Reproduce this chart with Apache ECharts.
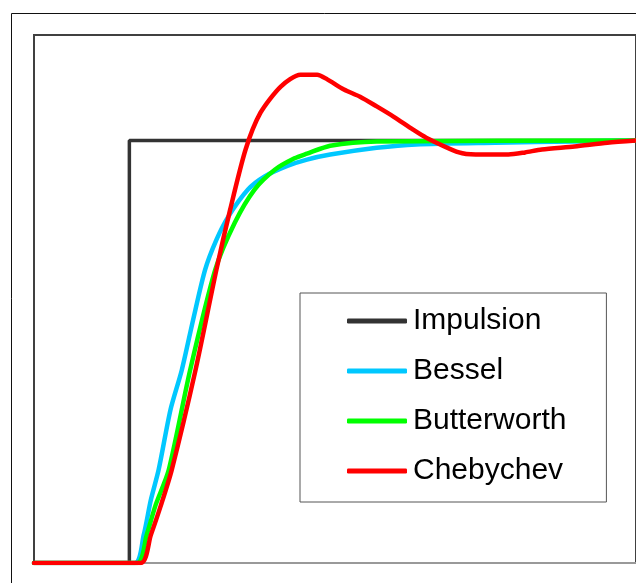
<!DOCTYPE html>
<html>
<head>
<meta charset="utf-8">
<script src="https://cdn.jsdelivr.net/npm/echarts@6/dist/echarts.min.js"></script>
<style>
  html, body { margin: 0; padding: 0; background: #fff; }
  #chart { width: 636px; height: 583px; }
</style>
</head>
<body>
<div id="chart"></div>
<script>
// noms des courbes (légende)
const seriesNames = ['Impulsion', 'Bessel', 'Butterworth', 'Chebychev']

// réponses indicielles : [temps, amplitude]
const impulsion = [[0, 0], [16.0, 0], [16.0, 1], [101, 1]]
const bessel = [
    [0, 0], [16.9, 0], [18.4, 0.066], [19.6, 0.149], [20.9, 0.22], [22.9, 0.363],
    [24.8, 0.457], [26.7, 0.576], [28.7, 0.694], [30.6, 0.765], [32.6, 0.82],
    [35.9, 0.884], [38.7, 0.915], [42.5, 0.94], [45.8, 0.955], [49.7, 0.967],
    [57.5, 0.983], [64.1, 0.991], [77.4, 0.995], [90.7, 0.998], [101, 1]
]
const butterworth = [
    [0, 0], [17.3, 0], [18.9, 0.066], [20.4, 0.137], [22.6, 0.22], [26.2, 0.457],
    [30.4, 0.694], [33.7, 0.806], [37.0, 0.884], [40.4, 0.931], [43.7, 0.958],
    [45.8, 0.969], [49.7, 0.988], [57.5, 0.998], [101, 1]
]
const chebychev = [
    [0, 0], [17.9, 0], [19.6, 0.066], [21.3, 0.137], [23.1, 0.22], [27.1, 0.457],
    [30.6, 0.694], [32.9, 0.836], [35.5, 0.979], [38.0, 1.066], [41.4, 1.128],
    [44.7, 1.156], [47.5, 1.156], [49.2, 1.145], [52.0, 1.121], [54.7, 1.104],
    [57.5, 1.081], [60.3, 1.057], [63.6, 1.026], [65.8, 1.007], [71.3, 0.972],
    [74.1, 0.967], [79.6, 0.967], [82.4, 0.972], [85.2, 0.979], [90.7, 0.986],
    [96.2, 0.995], [101, 1.0]
]

const colors = ['#333333', '#00c8ff', '#00ff00', '#ff0000']
const allData = [impulsion, bessel, butterworth, chebychev]

const myChart = echarts.init(document.getElementById('chart'))

const options = {
    animation: false,
    backgroundColor: '#fff',
    color: colors,
    // cadre extérieur
    graphic: [
        {
            type: 'rect',
            shape: { x: 11.5, y: 13.5, width: 700, height: 700 },
            style: { fill: 'none', stroke: '#111', lineWidth: 1 },
            z: -1
        }
    ],
    grid: {
        left: 34,
        top: 35,
        right: -6,
        bottom: 20,
        show: true,
        borderColor: '#404040',
        borderWidth: 2
    },
    xAxis: {
        type: 'value',
        min: 0,
        max: 101,
        axisLine: { show: true, lineStyle: { color: '#999', width: 2 } },
        axisTick: { show: false },
        axisLabel: { show: false },
        splitLine: { show: false }
    },
    yAxis: {
        type: 'value',
        min: 0,
        max: 1.25,
        axisLine: { show: false },
        axisTick: { show: false },
        axisLabel: { show: false },
        splitLine: { show: false }
    },
    legend: {
        orient: 'vertical',
        left: 300,
        top: 293,
        padding: [13, 40, 16, 47],
        icon: 'roundRect',
        itemWidth: 60,
        itemHeight: 5,
        itemGap: 20,
        backgroundColor: '#fff',
        borderColor: '#555',
        borderWidth: 1,
        textStyle: {
            fontFamily: 'Liberation Sans, Arial, sans-serif',
            fontSize: 30,
            lineHeight: 30,
            color: '#000',
            padding: [0, 0, 0, 1]
        },
        data: seriesNames
    },
    series: seriesNames.map((name, i) => ({
        name: name,
        type: 'line',
        data: allData[i],
        symbol: 'none',
        smooth: i > 0 ? 0.25 : false,
        lineStyle: { width: i === 0 ? 3.5 : 4.5, color: colors[i], cap: 'round' },
        itemStyle: { color: colors[i] }
    }))
}

myChart.setOption(options)
</script>
</body>
</html>
